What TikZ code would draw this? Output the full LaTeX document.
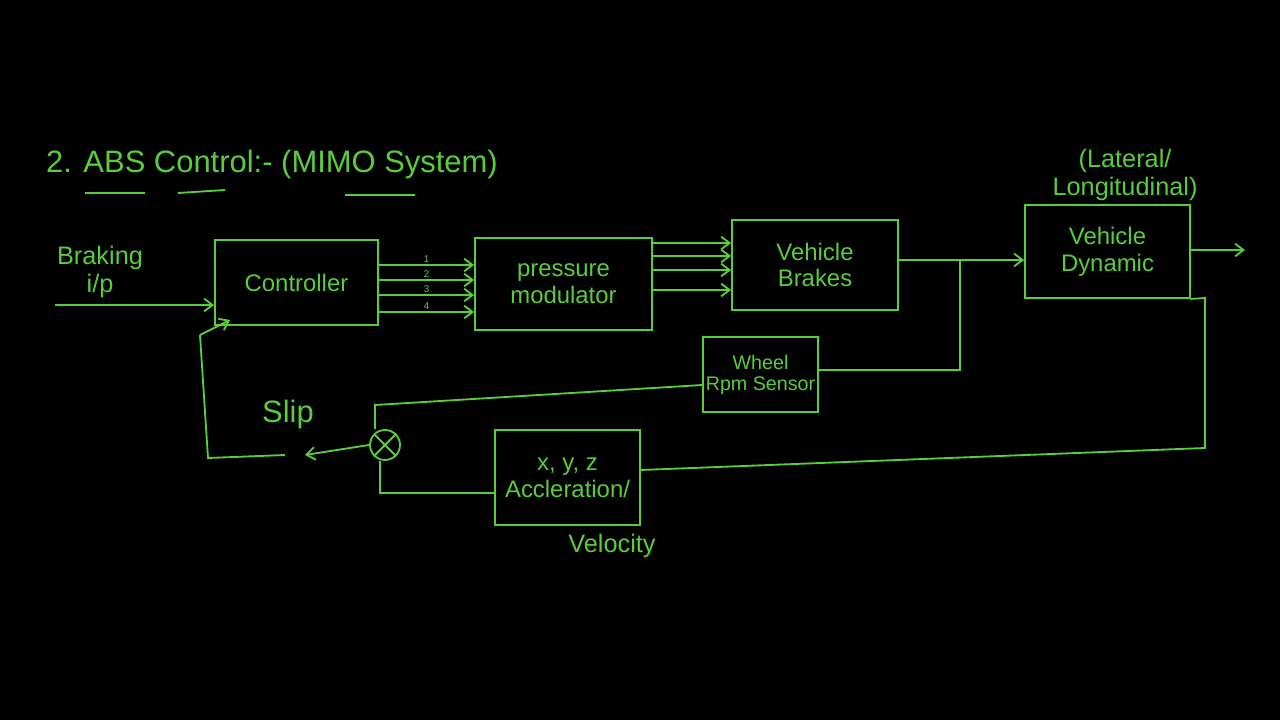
\documentclass[tikz,border=0pt]{standalone}
\usepackage{fontspec}
\setmainfont{Liberation Sans}
\usetikzlibrary{arrows.meta}
\definecolor{chalk}{RGB}{90,205,60}
\begin{document}
\begin{tikzpicture}[x=0.025cm,y=-0.025cm,
  ln/.style={draw=chalk,line width=1.3pt},
  blk/.style={ln,rectangle,align=center,text=chalk,font=\fontsize{17}{19}\selectfont,inner sep=0pt},
  lbl/.style={text=chalk,align=center,font=\fontsize{18}{20}\selectfont},
  arr/.style={ln,-{Straight Barb[length=6pt,width=9pt]}}]
\fill[black,draw=none] (0,0) rectangle (1280,720);
\useasboundingbox (0,0) rectangle (1280,720);
% title
\node[lbl,font=\fontsize{22}{24}\selectfont] (title) at (272,165) {2. ABS Control:- (MIMO System)};
\node[lbl] (latlong) at (1125,175) {(Lateral/\\Longitudinal)};
% blocks
\node[blk,minimum width={163*0.025cm},minimum height={85*0.025cm}] (ctrl) at (296.5,282.5) {Controller};
\node[blk,minimum width={177*0.025cm},minimum height={92*0.025cm}] (pm) at (563.5,284) {pressure\\modulator};
\node[blk,minimum width={166*0.025cm},minimum height={90*0.025cm}] (vb) at (815,265) {Vehicle\\Brakes};
\node[blk,minimum width={165*0.025cm},minimum height={93*0.025cm}] (vd) at (1107.5,251.5) {Vehicle\\Dynamic};
\node[blk,minimum width={115*0.025cm},minimum height={75*0.025cm},font=\fontsize{14}{15}\selectfont] (ws) at (760.5,374.5) {Wheel\\Rpm Sensor};
\node[blk,minimum width={145*0.025cm},minimum height={95*0.025cm}] (acc) at (567.5,477.5) {x, y, z\\Accleration/};
\node[ln,circle,minimum size={30*0.025cm},inner sep=0pt] (sum) at (385,445) {};
\draw[ln] (sum.north west) -- (sum.south east) (sum.north east) -- (sum.south west);
% labels
\node[lbl] (brk) at (100,272) {Braking\\i/p};
\node[lbl,font=\fontsize{22}{24}\selectfont] (slip) at (288,415) {Slip};
\node[lbl] (vel) at (612,546) {Velocity};
% input
\coordinate (in) at (55,305);
\draw[arr] (in) -- (ctrl.west |- in);
% controller -> modulator
\foreach \y/\n in {265/1,280/2,295/3,312/4}{
  \draw[arr] (ctrl.east |- 0,\y) -- (pm.west |- 0,\y) node[pos=0.5,above,inner sep=1pt,text=chalk,font=\scriptsize]{\n};
}
% modulator -> brakes
\foreach \y in {243,256,270,290}{
  \draw[arr] (pm.east |- 0,\y) -- (vb.west |- 0,\y);
}
% brakes -> dynamics
\draw[arr] (vb.east |- 0,260) -- (vd.west |- 0,260);
\coordinate (out) at (1245,250);
\draw[arr] (vd.east |- out) -- (out);
% branch to wheel sensor
\coordinate (br) at (960,260);
\draw[ln] (br) |- (ws.east |- 0,370);
% wheel sensor to sum
\draw[ln] (ws.west |- 0,385) -- (375,405) -- (sum.north -| 375,0);
% dynamics to acceleration
\draw[ln] (vd.south east) -- (1205,298) -- (1205,448) -- (acc.east |- 0,470);
% acceleration to sum
\draw[ln] (acc.west |- 0,493) -- (380,493) -- (sum.south -| 380,0);
% sum to slip and controller
\coordinate (sl) at (305,455);
\draw[arr] (sum.west) -- (sl);
\coordinate (fb) at (200,335);
\draw[ln] (285,455) -- (208,458) -- (fb);
\draw[arr] (fb) -- (230,320);
% underlines
\draw[ln] (85,193) -- (145,193) (178,193) -- (225,190) (345,195) -- (415,195);
\end{tikzpicture}
\end{document}
